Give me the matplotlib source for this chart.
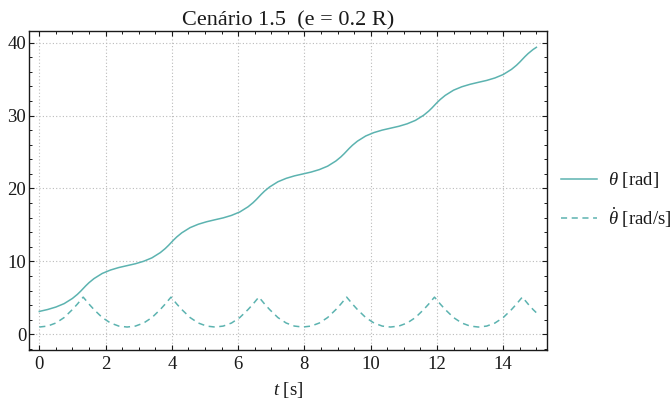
import matplotlib.pyplot as plt
from matplotlib.ticker import MultipleLocator

plt.rcParams["font.family"] = ["Liberation Serif", "DejaVu Serif"]
plt.rcParams["mathtext.fontset"] = "custom"
plt.rcParams["mathtext.rm"] = "Liberation Serif"
plt.rcParams["mathtext.it"] = "Liberation Serif:italic"

# time samples [s]
t = [
    0, 0.25, 0.5, 0.75, 1.0, 1.15, 1.25, 1.325, 1.4, 1.5, 1.65, 1.9, 2.15, 2.4,
    2.65, 2.9, 3.15, 3.4, 3.65, 3.8, 3.9, 3.975, 4.05, 4.15, 4.3, 4.55, 4.8, 5.05,
    5.3, 5.55, 5.8, 6.05, 6.3, 6.45, 6.55, 6.625, 6.7, 6.8, 6.95, 7.2, 7.45, 7.7,
    7.95, 8.2, 8.45, 8.7, 8.95, 9.1, 9.2, 9.275, 9.35, 9.45, 9.6, 9.85, 10.1, 10.35,
    10.6, 10.85, 11.1, 11.35, 11.6, 11.75, 11.85, 11.925, 12.0, 12.1, 12.25, 12.5, 12.75, 13.0,
    13.25, 13.5, 13.75, 14.0, 14.25, 14.4, 14.5, 14.575, 14.65, 14.75, 14.9, 15.0,
]

# angle theta [rad]
theta = [
    3.14, 3.40, 3.74, 4.21, 4.92, 5.48, 5.92, 6.28, 6.64, 7.08, 7.64, 8.35, 8.82, 9.16,
    9.42, 9.68, 10.02, 10.49, 11.20, 11.76, 12.20, 12.56, 12.92, 13.36, 13.92, 14.63, 15.10, 15.44,
    15.71, 15.97, 16.31, 16.78, 17.49, 18.05, 18.49, 18.85, 19.21, 19.65, 20.21, 20.92, 21.39, 21.73,
    21.99, 22.25, 22.59, 23.06, 23.77, 24.33, 24.77, 25.13, 25.49, 25.93, 26.49, 27.20, 27.67, 28.01,
    28.27, 28.53, 28.87, 29.34, 30.05, 30.61, 31.05, 31.41, 31.77, 32.21, 32.77, 33.48, 33.95, 34.29,
    34.56, 34.82, 35.16, 35.63, 36.34, 36.90, 37.34, 37.70, 38.06, 38.50, 39.06, 39.36,
]

# angular velocity theta-dot [rad/s]
theta_dot = [
    1.00, 1.13, 1.55, 2.30, 3.40, 4.15, 4.70, 5.10, 4.70, 4.15, 3.40, 2.30, 1.55, 1.13,
    1.00, 1.13, 1.55, 2.30, 3.40, 4.15, 4.70, 5.10, 4.70, 4.15, 3.40, 2.30, 1.55, 1.13,
    1.00, 1.13, 1.55, 2.30, 3.40, 4.15, 4.70, 5.10, 4.70, 4.15, 3.40, 2.30, 1.55, 1.13,
    1.00, 1.13, 1.55, 2.30, 3.40, 4.15, 4.70, 5.10, 4.70, 4.15, 3.40, 2.30, 1.55, 1.13,
    1.00, 1.13, 1.55, 2.30, 3.40, 4.15, 4.70, 5.10, 4.70, 4.15, 3.40, 2.30, 1.55, 1.13,
    1.00, 1.13, 1.55, 2.30, 3.40, 4.15, 4.70, 5.10, 4.70, 4.15, 3.40, 2.96,
]

color = "#5cb3b0"
ink = "#1a1a1a"

fig = plt.figure(figsize=(6.7, 4.05), dpi=100)
ax = fig.add_axes([0.0433, 0.1358, 0.7731, 0.7877])

ax.plot(t, theta, color=color, lw=1.1, label=r"$\theta$ [rad]")
ax.plot(t, theta_dot, color=color, lw=1.1, dashes=(4, 3), label=r"$\dot{\theta}$ [rad/s]")

ax.set_xlim(-0.31, 15.32)
ax.set_ylim(-2.15, 41.6)

ax.xaxis.set_major_locator(MultipleLocator(2))
ax.xaxis.set_minor_locator(MultipleLocator(0.5))
ax.yaxis.set_major_locator(MultipleLocator(10))
ax.yaxis.set_minor_locator(MultipleLocator(2))
ax.tick_params(which="both", direction="in", top=True, right=True, labelsize=13.5, colors=ink)
ax.tick_params(which="major", length=3.5, width=0.8)
ax.tick_params(which="minor", length=2, width=0.7)
ax.tick_params(axis="x", pad=4)
ax.tick_params(axis="y", pad=2)

for s in ax.spines.values():
    s.set_linewidth(1.0)
    s.set_color(ink)

ax.grid(True, which="major", linestyle=(0, (1, 2)), color="#bbbbbb", linewidth=0.8)

ax.set_title("Cenário 1.5  (e = 0.2 R)", fontsize=16, pad=3, color=ink)
ax.set_xlabel(r"$t$ [s]", fontsize=13.5, labelpad=5, color=ink)

leg = fig.legend(loc="center left", bbox_to_anchor=(0.838, 0.506), frameon=False,
                 borderpad=0, borderaxespad=0, fontsize=13.5, handlelength=1.87,
                 handletextpad=0.59, labelspacing=0.8)
for txt in leg.get_texts():
    txt.set_color(ink)

fig.savefig("out.png", dpi=100)
